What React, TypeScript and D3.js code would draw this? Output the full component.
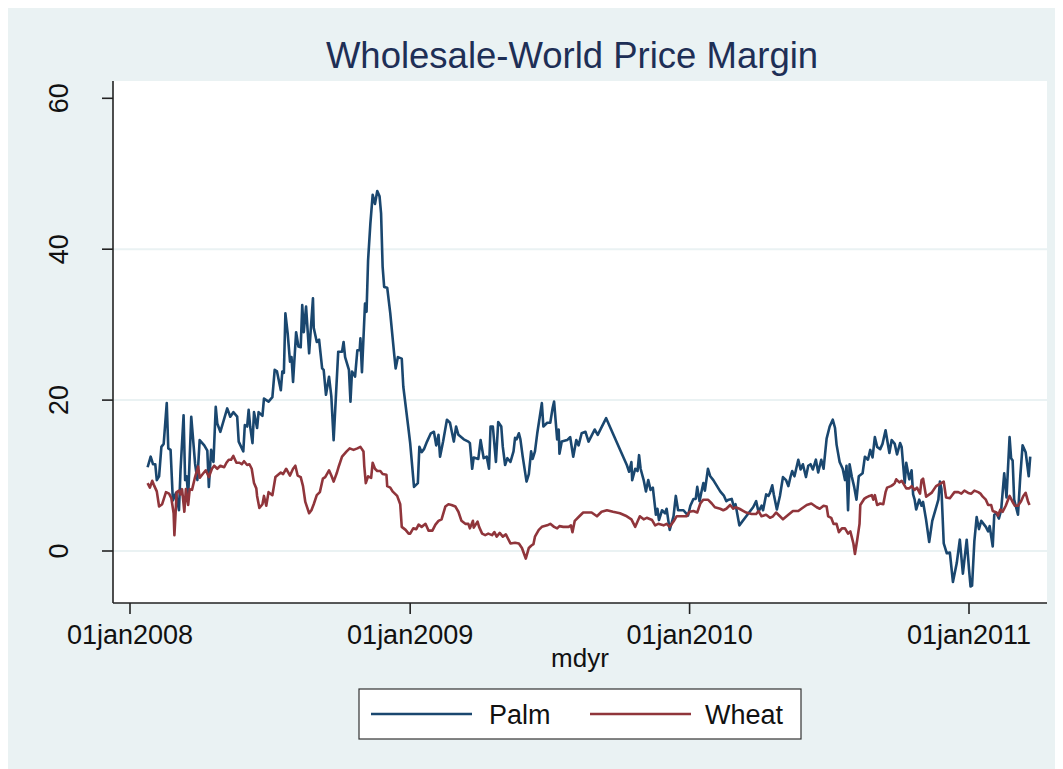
import React from "react";
import * as d3 from "d3";

// ---- Data ----
const palmDates = [
  "2008-01-24","2008-01-28","2008-01-31","2008-02-03","2008-02-05","2008-02-08","2008-02-11","2008-02-14","2008-02-18","2008-02-20",
  "2008-02-23","2008-02-26","2008-03-01","2008-03-05","2008-03-07","2008-03-11","2008-03-13","2008-03-15","2008-03-17","2008-03-21",
  "2008-03-26","2008-03-29","2008-04-01","2008-04-07","2008-04-11","2008-04-13","2008-04-16","2008-04-19","2008-04-22","2008-04-24",
  "2008-04-28","2008-05-07","2008-05-11","2008-05-15","2008-05-20","2008-05-22","2008-05-28","2008-05-30","2008-06-02","2008-06-04",
  "2008-06-06","2008-06-09","2008-06-11","2008-06-15","2008-06-17","2008-06-22","2008-06-24","2008-06-30","2008-07-05","2008-07-08",
  "2008-07-11","2008-07-16","2008-07-18","2008-07-20","2008-07-22","2008-07-25","2008-07-28","2008-07-30","2008-08-01","2008-08-05",
  "2008-08-08","2008-08-11","2008-08-13","2008-08-15","2008-08-18","2008-08-22","2008-08-27","2008-08-28","2008-09-01","2008-09-04",
  "2008-09-08","2008-09-10","2008-09-13","2008-09-17","2008-09-20","2008-09-23","2008-09-29","2008-10-04","2008-10-06","2008-10-08",
  "2008-10-13","2008-10-15","2008-10-17","2008-10-21","2008-10-24","2008-10-27","2008-10-28","2008-10-30","2008-11-03","2008-11-05",
  "2008-11-07","2008-11-10","2008-11-13","2008-11-16","2008-11-19","2008-11-22","2008-11-24","2008-11-26","2008-11-28","2008-12-02",
  "2008-12-06","2008-12-11","2008-12-13","2008-12-16","2008-12-21","2008-12-23","2008-12-30",
  "2009-01-01","2009-01-06","2009-01-11","2009-01-13","2009-01-16","2009-01-19","2009-01-23","2009-01-28","2009-02-01","2009-02-04",
  "2009-02-07","2009-02-09","2009-02-13","2009-02-18","2009-02-22","2009-02-27","2009-03-02","2009-03-05","2009-03-12","2009-03-18",
  "2009-03-20","2009-03-23","2009-03-25","2009-03-31","2009-04-03","2009-04-07","2009-04-11","2009-04-14","2009-04-16","2009-04-19",
  "2009-04-23","2009-04-26","2009-04-30","2009-05-02","2009-05-05","2009-05-08","2009-05-12","2009-05-16","2009-05-18","2009-05-20",
  "2009-05-23","2009-05-25","2009-05-28","2009-06-02","2009-06-05","2009-06-08","2009-06-10","2009-06-13","2009-06-16","2009-06-19",
  "2009-06-22","2009-06-24","2009-06-29","2009-07-03","2009-07-06","2009-07-08","2009-07-12","2009-07-14","2009-07-15","2009-07-18",
  "2009-07-25","2009-07-29","2009-08-02","2009-08-06","2009-08-09","2009-08-13","2009-08-18","2009-08-22","2009-08-26","2009-08-30",
  "2009-09-03","2009-09-14","2009-10-11","2009-10-14","2009-10-17","2009-10-18","2009-10-22","2009-10-25","2009-10-27","2009-10-29",
  "2009-11-02","2009-11-05","2009-11-08","2009-11-11","2009-11-14","2009-11-18","2009-11-20","2009-11-22","2009-11-26","2009-11-30",
  "2009-12-02","2009-12-06","2009-12-11","2009-12-14","2009-12-17","2009-12-24","2009-12-30",
  "2010-01-02","2010-01-06","2010-01-09","2010-01-11","2010-01-14","2010-01-17","2010-01-19","2010-01-21","2010-01-25","2010-01-28",
  "2010-02-01","2010-02-10","2010-02-15","2010-02-18","2010-02-21","2010-02-25","2010-02-28","2010-03-02","2010-03-07","2010-03-16",
  "2010-03-25","2010-03-29","2010-04-01","2010-04-05","2010-04-07","2010-04-11","2010-04-14","2010-04-16","2010-04-19","2010-04-21",
  "2010-04-25","2010-04-29","2010-05-03","2010-05-07","2010-05-10","2010-05-13","2010-05-15","2010-05-18","2010-05-23","2010-05-26",
  "2010-05-29","2010-06-02","2010-06-05","2010-06-08","2010-06-11","2010-06-15","2010-06-18","2010-06-22","2010-06-25","2010-06-29",
  "2010-07-03","2010-07-07","2010-07-10","2010-07-12","2010-07-16","2010-07-20","2010-07-23","2010-07-25","2010-07-27","2010-07-29",
  "2010-08-01","2010-08-04","2010-08-07","2010-08-10","2010-08-15","2010-08-18","2010-08-22","2010-08-25","2010-08-28","2010-08-31",
  "2010-09-03","2010-09-07","2010-09-10","2010-09-14","2010-09-19","2010-09-22","2010-09-26","2010-09-29","2010-10-03","2010-10-05",
  "2010-10-09","2010-10-11","2010-10-15","2010-10-18","2010-10-20","2010-10-22","2010-10-24","2010-10-28","2010-10-31","2010-11-02",
  "2010-11-06","2010-11-10","2010-11-14","2010-11-22","2010-11-24","2010-11-26","2010-11-29","2010-12-03","2010-12-07","2010-12-11",
  "2010-12-16","2010-12-20","2010-12-24","2010-12-29",
  "2011-01-01","2011-01-03","2011-01-05","2011-01-08","2011-01-11","2011-01-14","2011-01-17","2011-01-20","2011-01-23","2011-01-26",
  "2011-01-28","2011-02-01","2011-02-03","2011-02-06","2011-02-09","2011-02-12","2011-02-16","2011-02-19","2011-02-23","2011-02-25",
  "2011-02-27","2011-03-01","2011-03-06","2011-03-09","2011-03-12","2011-03-16","2011-03-20","2011-03-22",
];
const palmValues = [
  11.1,12.5,11.5,11.5,9.4,9.9,13.8,14.2,19.6,13.6,
  13.4,6.7,7.7,5.4,10.7,18.0,9.4,9.9,7.2,17.8,
  11.6,9.4,14.7,14.0,13.3,8.5,13.4,11.8,19.1,16.9,
  15.8,18.9,17.8,18.4,17.8,14.5,13.2,16.7,16.5,18.7,
  16.5,14.3,18.4,16.3,18.4,17.9,20.2,19.8,20.4,24.0,
  23.8,21.3,23.8,23.6,31.5,28.8,25.1,25.7,22.4,29.0,
  27.1,27.0,32.6,29.0,32.4,26.2,33.5,29.6,27.7,28.0,
  24.2,24.0,20.7,23.1,20.5,14.7,26.4,26.4,27.7,25.7,
  24.0,19.8,23.8,23.1,26.6,26.6,28.2,23.7,32.8,31.7,
  38.5,43.4,47.2,46.0,47.7,47.0,44.7,37.7,35.0,34.9,
  31.5,26.2,24.2,25.7,25.5,21.8,16.0,
  14.3,8.5,9.0,13.8,13.1,13.5,14.5,15.6,15.8,14.0,
  15.4,12.5,14.5,17.4,17.0,14.5,16.5,15.4,14.8,14.5,
  14.3,10.9,12.4,12.2,14.7,12.3,12.5,10.9,16.5,16.5,
  11.8,17.1,16.5,13.8,11.4,12.3,11.8,13.2,15.0,14.8,
  15.6,14.8,12.5,9.2,10.2,13.2,12.2,13.2,15.6,17.6,
  19.6,16.5,17.0,17.0,18.9,19.8,14.8,16.1,12.9,14.5,
  14.7,15.1,12.5,14.7,14.0,15.6,15.8,14.5,15.3,16.1,
  15.4,17.6,11.4,10.5,11.8,9.4,10.9,10.6,12.7,10.9,
  9.4,7.9,9.4,8.1,8.4,4.8,5.6,4.1,5.4,5.0,
  5.6,2.8,4.6,7.3,5.4,5.4,4.7,
  6.0,6.9,6.9,8.5,6.6,8.1,9.0,8.0,10.9,9.9,
  9.4,7.9,7.3,6.6,6.8,6.9,5.8,6.2,3.4,4.6,
  5.8,6.6,5.2,6.0,5.4,7.5,7.3,7.7,8.7,7.5,
  5.5,7.3,9.8,9.4,8.6,9.9,10.6,9.9,12.1,10.8,
  11.5,9.8,11.3,11.5,10.8,12.1,10.4,12.1,10.9,14.9,
  16.5,17.4,16.3,14.1,11.8,10.9,9.4,11.3,5.4,11.5,
  9.8,8.5,6.8,9.9,10.3,12.5,12.1,13.4,12.4,15.1,
  13.8,13.5,14.2,16.0,13.0,14.7,14.2,12.8,14.3,13.8,
  9.0,11.7,9.5,10.7,7.5,6.8,5.5,6.8,6.0,6.5,
  4.1,1.2,4.0,6.8,9.2,8.2,1.0,-0.3,-0.2,-4.1,
  -1.6,1.5,-3.0,1.5,
  -2.4,-4.7,-4.6,1.3,4.5,2.9,4.0,3.6,3.2,2.6,
  3.3,0.6,4.8,5.0,4.3,5.4,10.3,7.1,15.1,12.3,
  12.0,6.8,4.8,9.9,14.0,13.1,9.9,12.5,
];

const wheatDates = [
  "2008-01-24","2008-01-27","2008-01-30","2008-02-01","2008-02-05","2008-02-08","2008-02-12","2008-02-17","2008-02-21","2008-02-24",
  "2008-02-27","2008-02-28","2008-03-02","2008-03-05","2008-03-07","2008-03-09","2008-03-12","2008-03-14","2008-03-17","2008-03-19",
  "2008-03-22","2008-03-26","2008-03-30","2008-04-01","2008-04-05","2008-04-09","2008-04-13","2008-04-17","2008-04-20","2008-04-24",
  "2008-04-28","2008-05-03","2008-05-06","2008-05-09","2008-05-12","2008-05-15","2008-05-19","2008-05-23","2008-05-26","2008-05-29",
  "2008-06-02","2008-06-05","2008-06-08","2008-06-11","2008-06-14","2008-06-15","2008-06-18","2008-06-22","2008-06-24","2008-06-27",
  "2008-06-30","2008-07-05","2008-07-09","2008-07-16","2008-07-19","2008-07-23","2008-07-28","2008-08-01","2008-08-04","2008-08-07",
  "2008-08-11","2008-08-14","2008-08-17","2008-08-22","2008-08-25","2008-08-28","2008-09-01","2008-09-05","2008-09-09","2008-09-12",
  "2008-09-17","2008-09-20","2008-09-23","2008-09-27","2008-09-30","2008-10-04","2008-10-10","2008-10-14","2008-10-19","2008-10-24",
  "2008-10-28","2008-11-01","2008-11-02","2008-11-04","2008-11-07","2008-11-11","2008-11-13","2008-11-16","2008-11-19","2008-11-23",
  "2008-11-26","2008-12-01","2008-12-02","2008-12-06","2008-12-09","2008-12-15","2008-12-19","2008-12-21","2008-12-26","2008-12-30",
  "2009-01-01","2009-01-05","2009-01-09","2009-01-12","2009-01-16","2009-01-21","2009-01-25","2009-01-30","2009-02-03","2009-02-07",
  "2009-02-11","2009-02-16","2009-02-20","2009-02-24","2009-03-01","2009-03-05","2009-03-09","2009-03-14","2009-03-18","2009-03-20",
  "2009-03-24","2009-03-25","2009-03-30","2009-04-01","2009-04-05","2009-04-09","2009-04-13","2009-04-18","2009-04-21","2009-04-24",
  "2009-04-28","2009-05-02","2009-05-06","2009-05-12","2009-05-18","2009-05-23","2009-05-27","2009-06-01","2009-06-05","2009-06-08",
  "2009-06-11","2009-06-13","2009-06-18","2009-06-22","2009-06-29","2009-07-03","2009-07-08","2009-07-12","2009-07-15","2009-07-20",
  "2009-07-27","2009-07-30","2009-08-01","2009-08-04","2009-08-10","2009-08-15","2009-08-20","2009-08-26","2009-09-02","2009-09-08",
  "2009-09-15","2009-09-23","2009-10-02","2009-10-11","2009-10-17","2009-10-22","2009-10-25","2009-10-28","2009-11-02","2009-11-06",
  "2009-11-13","2009-11-17","2009-11-21","2009-11-28","2009-12-02","2009-12-06","2009-12-11","2009-12-15","2009-12-28",
  "2010-01-01","2010-01-06","2010-01-11","2010-01-15","2010-01-19","2010-01-25","2010-01-30","2010-02-03","2010-02-10","2010-02-14",
  "2010-02-18","2010-02-23","2010-02-27","2010-03-02","2010-03-07","2010-03-16","2010-03-23","2010-03-29","2010-04-01","2010-04-05",
  "2010-04-11","2010-04-16","2010-04-20","2010-04-24","2010-04-29","2010-05-03","2010-05-10","2010-05-16","2010-05-23","2010-05-27",
  "2010-06-03","2010-06-09","2010-06-16","2010-06-20","2010-06-25","2010-06-29","2010-07-01","2010-07-05","2010-07-08","2010-07-12",
  "2010-07-15","2010-07-19","2010-07-23","2010-07-27","2010-07-30","2010-08-03","2010-08-05","2010-08-08","2010-08-11","2010-08-12",
  "2010-08-17","2010-08-20","2010-08-24","2010-08-27","2010-08-29","2010-08-31","2010-09-03","2010-09-07","2010-09-11","2010-09-14",
  "2010-09-16","2010-09-21","2010-09-24","2010-09-26","2010-09-28","2010-10-02","2010-10-05","2010-10-07","2010-10-11","2010-10-15",
  "2010-10-18","2010-10-22","2010-10-25","2010-10-29","2010-10-31","2010-11-02","2010-11-06","2010-11-13","2010-11-19","2010-11-24",
  "2010-11-29","2010-12-02","2010-12-07","2010-12-13","2010-12-18","2010-12-22","2010-12-26","2010-12-31",
  "2011-01-04","2011-01-08","2011-01-13","2011-01-16","2011-01-19","2011-01-23","2011-01-26","2011-01-30","2011-02-01","2011-02-06",
  "2011-02-08","2011-02-11","2011-02-14","2011-02-18","2011-02-21","2011-02-23","2011-02-27","2011-03-02","2011-03-06","2011-03-10",
  "2011-03-13","2011-03-16","2011-03-19","2011-03-21",
];
const wheatValues = [
  9.0,8.4,9.3,8.8,7.9,5.9,6.2,7.8,7.6,7.0,
  5.0,2.1,7.8,8.0,7.5,8.2,5.2,8.2,6.1,8.2,
  8.1,9.8,11.2,9.7,10.2,10.7,9.8,10.9,11.3,10.9,
  11.3,11.1,11.7,12.1,12.1,12.6,11.7,11.7,11.5,11.9,
  11.4,11.5,10.9,9.0,8.3,7.3,5.7,6.2,7.3,6.0,
  7.8,7.4,9.8,10.4,10.2,10.9,10.0,10.9,11.3,10.0,
  9.8,8.6,6.5,5.0,5.4,6.2,7.4,7.8,9.6,9.8,
  10.7,10.0,9.2,10.3,11.3,12.5,13.2,13.6,13.4,13.6,
  13.8,13.2,11.3,9.0,9.9,9.7,11.7,10.9,10.6,10.6,
  10.2,10.1,8.6,8.4,7.9,7.3,6.2,3.2,2.8,2.3,
  2.3,3.0,2.9,3.5,3.2,3.6,2.7,2.7,3.5,4.0,
  4.2,5.9,6.2,6.1,5.9,5.2,4.0,3.6,3.6,3.0,
  4.0,3.1,3.9,3.2,2.3,2.1,2.3,2.1,2.5,1.9,
  2.4,1.9,2.2,1.0,1.1,1.0,0.4,-1.0,0.4,0.7,
  0.9,1.9,2.8,3.2,3.4,3.6,3.2,3.0,3.3,3.2,
  3.2,3.4,2.5,4.0,4.6,5.1,5.1,5.1,4.6,5.2,
  5.4,5.2,5.0,4.6,4.2,3.2,3.9,4.6,4.2,4.4,
  4.1,3.4,3.6,3.4,3.6,3.2,3.9,4.6,4.6,
  5.2,5.3,5.1,6.3,6.8,6.8,6.3,5.8,5.6,5.4,
  5.6,6.1,5.6,5.8,5.6,5.1,4.9,4.9,5.3,4.6,
  4.8,4.4,4.6,5.1,4.6,4.2,4.8,5.3,5.3,5.6,
  6.1,6.3,5.8,5.6,6.0,5.9,4.6,4.4,3.6,3.6,
  2.5,3.0,3.0,2.3,2.6,1.0,-0.4,1.5,3.6,6.1,
  6.9,7.1,7.3,7.4,6.8,7.4,6.1,6.3,6.2,7.8,
  8.4,8.6,8.8,9.0,9.5,9.1,9.3,9.0,8.3,8.3,
  8.6,8.1,8.4,7.6,9.4,9.6,7.2,7.7,8.6,8.9,
  9.2,7.1,7.0,7.8,7.8,7.6,8.0,7.7,
  7.6,8.0,7.8,7.6,7.2,6.8,6.1,6.1,5.3,5.1,
  4.7,5.5,5.2,6.0,6.8,7.3,6.5,6.0,6.0,6.6,
  7.3,7.7,6.6,6.1,
];

const xTickDates = ["2008-01-01", "2009-01-01", "2010-01-01", "2011-01-01"];
const yTickValues = [0, 20, 40, 60];
const gridValues = [0, 20, 40];
const seriesNames = ["Palm", "Wheat"];
const seriesColors = ["#1a476f", "#90353b"];
const titleText = "Wholesale-World Price Margin";
const xAxisTitle = "mdyr";

const parse = d3.timeParse("%Y-%m-%d");
const fmt = d3.timeFormat("%d%b%Y");

export default function App() {
  const W = 1055;
  const H = 761;
  // plot region in page coordinates
  const left = 113, right = 1047, top = 81, bottom = 603;

  const x = d3
    .scaleTime()
    .domain([parse("2008-01-01") as Date, parse("2011-01-01") as Date])
    .range([130, 969]);
  const y = d3.scaleLinear().domain([0, 60]).range([551, 98.3]);

  const palm = palmDates.map((d, i) => ({ d: parse(d) as Date, v: palmValues[i] }));
  const wheat = wheatDates.map((d, i) => ({ d: parse(d) as Date, v: wheatValues[i] }));
  const line = d3
    .line<{ d: Date; v: number }>()
    .x((p) => x(p.d))
    .y((p) => y(p.v));

  const font = "'Liberation Sans', Arial, Helvetica, sans-serif";
  const tickFs = 27;

  return (
    <svg width={W} height={H} style={{ display: "block" }} fontFamily={font}>
      <g transform="translate(-8,-8)">
        <rect x={8} y={8} width={W} height={H} fill="#eaf2f3" />
        <rect x={left} y={top} width={right - left} height={bottom - top} fill="#ffffff" />
        <defs>
          <clipPath id="plotclip">
            <rect x={left} y={top} width={right - left} height={bottom - top} />
          </clipPath>
        </defs>
        {gridValues.map((g) => (
          <line key={"g" + g} x1={left} x2={right} y1={y(g)} y2={y(g)} stroke="#eaf2f3" strokeWidth={2} />
        ))}
        <g clipPath="url(#plotclip)">
          <path d={line(palm) || ""} fill="none" stroke={seriesColors[0]} strokeWidth={2.6} strokeLinejoin="round" />
          <path d={line(wheat) || ""} fill="none" stroke={seriesColors[1]} strokeWidth={2.6} strokeLinejoin="round" />
        </g>
        {/* axes */}
        <line x1={left} x2={left} y1={top} y2={bottom} stroke="#222" strokeWidth={1.6} />
        <line x1={left} x2={right} y1={bottom} y2={bottom} stroke="#222" strokeWidth={1.6} />
        {yTickValues.map((t) => (
          <g key={"y" + t}>
            <line x1={left - 11} x2={left} y1={y(t)} y2={y(t)} stroke="#222" strokeWidth={1.6} />
            <text
              transform={`translate(${68},${y(t)}) rotate(-90)`}
              textAnchor="middle"
              fontSize={tickFs}
              fill="#111"
            >
              {t}
            </text>
          </g>
        ))}
        {xTickDates.map((t) => {
          const dt = parse(t) as Date;
          return (
            <g key={"x" + t}>
              <line x1={x(dt)} x2={x(dt)} y1={bottom} y2={bottom + 11} stroke="#222" strokeWidth={1.6} />
              <text x={x(dt)} y={644} textAnchor="middle" fontSize={tickFs} fill="#111">
                {fmt(dt).toLowerCase()}
              </text>
            </g>
          );
        })}
        <text x={(left + right) / 2} y={667} textAnchor="middle" fontSize={26} fill="#111">
          {xAxisTitle}
        </text>
        <text x={572} y={68} textAnchor="middle" fontSize={36.5} fill="#1e2f56">
          {titleText}
        </text>
        {/* legend */}
        <rect x={359} y={689} width={442} height={50} fill="#ffffff" stroke="#333" strokeWidth={1.2} />
        <line x1={371} x2={472} y1={714} y2={714} stroke={seriesColors[0]} strokeWidth={2.6} />
        <text x={489} y={724} fontSize={27} fill="#111">{seriesNames[0]}</text>
        <line x1={590} x2={691} y1={714} y2={714} stroke={seriesColors[1]} strokeWidth={2.6} />
        <text x={705} y={724} fontSize={27} fill="#111">{seriesNames[1]}</text>
      </g>
    </svg>
  );
}
